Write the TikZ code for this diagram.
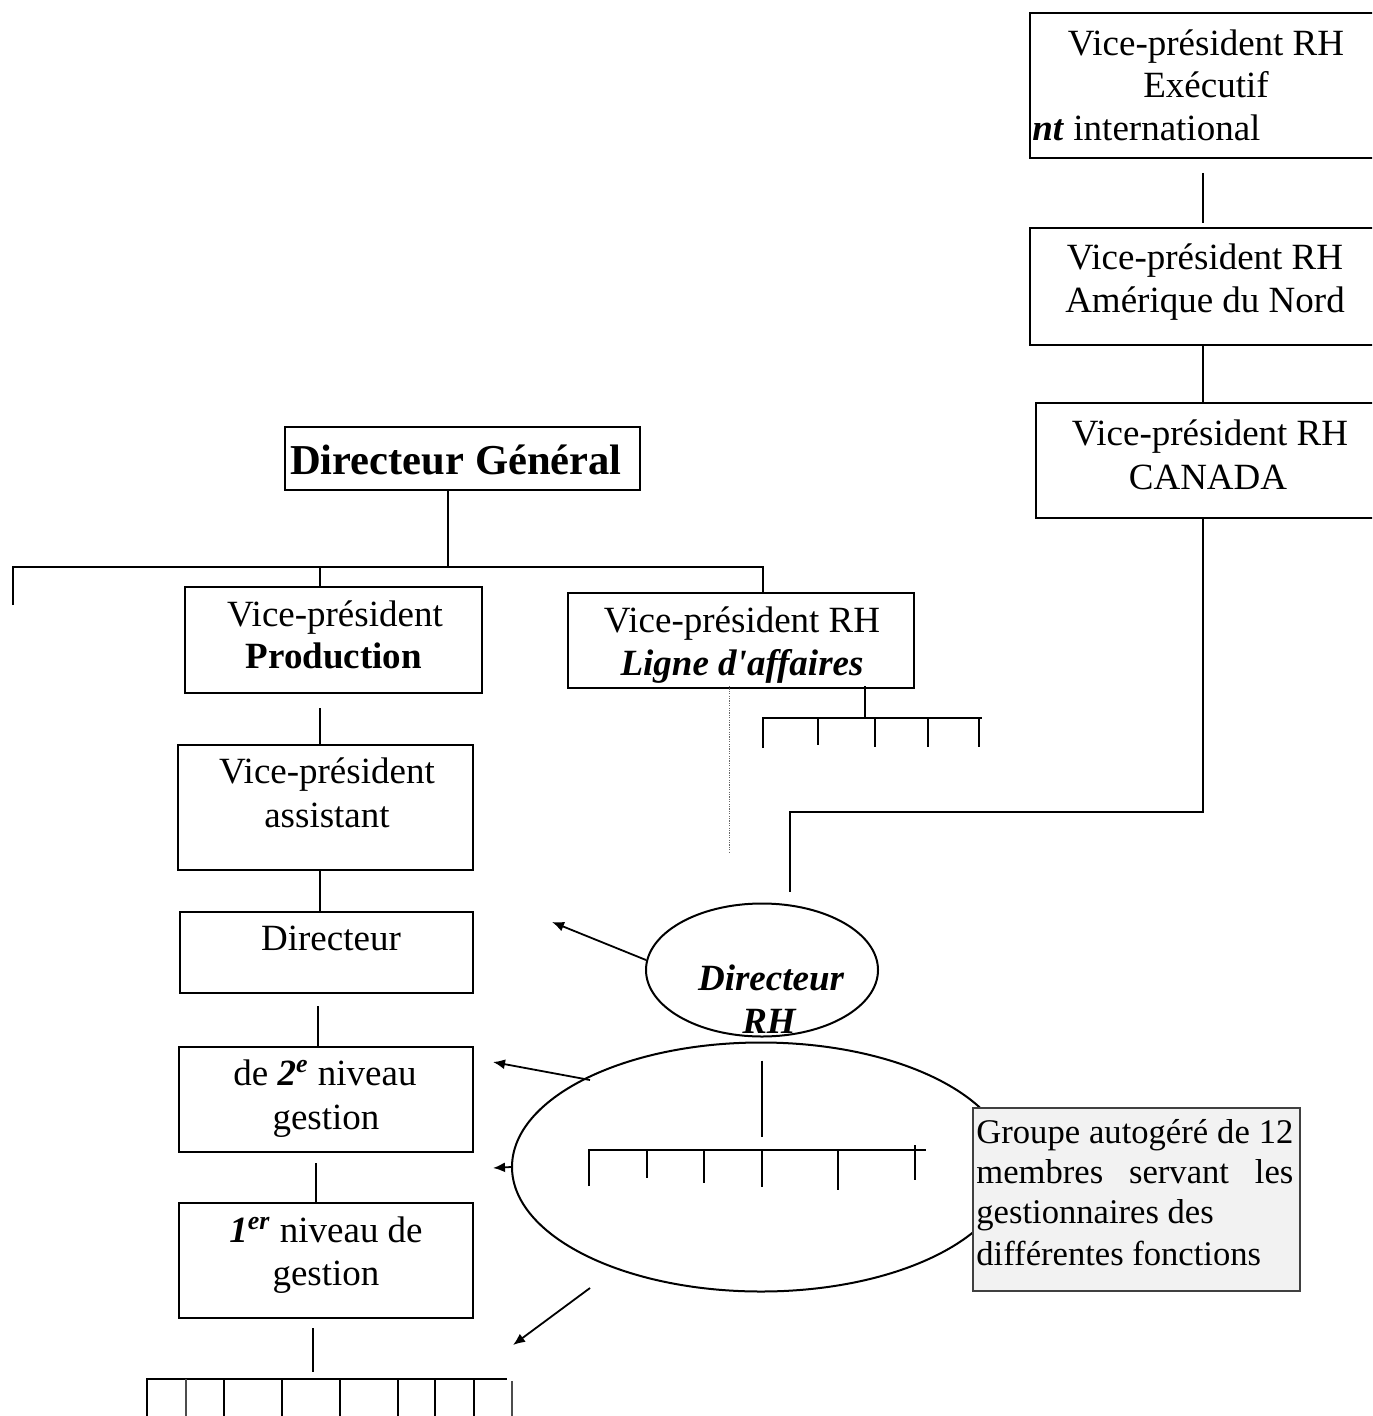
\documentclass[tikz,border=0pt]{standalone}
\usepackage{fontspec}
\setmainfont{Liberation Serif}
\usetikzlibrary{shapes.geometric, arrows.meta, calc}

\begin{document}
\begin{tikzpicture}[x=0.5pt, y=-0.5pt,
  rbox/.style={draw, line width=1pt, rectangle, inner sep=0pt},
  txt/.style={inner sep=0pt, anchor=base, font=\fontsize{18.5}{21}\selectfont},
  gtxt/.style={inner sep=0pt, anchor=base west, font=\fontsize{17.3}{20}\selectfont},
  link/.style={line width=1.3pt},
  thinlink/.style={line width=0.7pt, draw=black!70},
  pointer/.style={line width=0.9pt, -{Latex[length=6pt, width=5pt]}},
  oval/.style={draw, ellipse, line width=1pt, inner sep=0pt},
  dotline/.style={draw=black!60, line width=0.5pt, dash pattern=on 0.6pt off 0.6pt}]

\path[use as bounding box] (0,0) rectangle (1372,1416);
\clip (0,0) rectangle (1372,1416);

% ---------- HR chain on the right ----------
\node[rbox, minimum width=175pt, minimum height=72.5pt] (exe) at (1205,85.5) {};
\node[rbox, minimum width=175pt, minimum height=58.5pt] (amn) at (1205,286.5) {};
\node[rbox, minimum width=172pt, minimum height=57.5pt] (can) at (1208,460.5) {};

\node[txt] (exe1) at (1206,56) {Vice-président RH};
\node[txt] (exe2) at (1206,98) {Exécutif};
\node[txt, anchor=base west] (exe3) at (1032,141) {\textbf{\textit{nt}} international};

\node[txt] (amn1) at (1205,270) {Vice-président RH};
\node[txt] (amn2) at (1205,313) {Amérique du Nord};

\node[txt] (can1) at (1210,446) {Vice-président RH};
\node[txt] (can2) at (1208,489) {CANADA};

% ---------- general management ----------
\node[rbox, minimum width=177.5pt, minimum height=31.5pt] (dg) at (462.5,458.5) {};
\node[txt, font=\fontsize{21.3}{24}\selectfont\bfseries] (dgt) at (456,474) {Directeur Général};

\node[rbox, minimum width=148.5pt, minimum height=53pt] (vpp) at (333.5,640) {};
\node[txt] (vpp1) at (335,626) {Vice-président};
\node[txt, font=\fontsize{18.5}{21}\selectfont\bfseries] (vpp2) at (334,668) {Production};

\node[rbox, minimum width=173pt, minimum height=47.5pt] (vprh) at (741,640.5) {};
\node[txt] (vprh1) at (742,632) {Vice-président RH};
\node[txt, font=\fontsize{18.5}{21}\selectfont\bfseries\itshape] (vprh2) at (742,675) {Ligne d\textquotesingle affaires};

\node[rbox, minimum width=147.5pt, minimum height=62.5pt] (vpa) at (325.5,807.5) {};
\node[txt] (vpa1) at (327,783) {Vice-président};
\node[txt] (vpa2) at (327,827) {assistant};

\node[rbox, minimum width=146.5pt, minimum height=40.5pt] (dir) at (326.5,952.5) {};
\node[txt] (dirt) at (331,950) {Directeur};

\node[rbox, minimum width=147pt, minimum height=52.5pt] (n2) at (326,1099.5) {};
\node[txt] (n2a) at (325,1085) {de \textbf{\textit{2}}\textsuperscript{\textbf{\textit{e}}} niveau};
\node[txt] (n2b) at (326,1129) {gestion};

\node[rbox, minimum width=147pt, minimum height=57.5pt] (n1) at (326,1260.5) {};
\node[txt] (n1a) at (326,1242) {\textbf{\textit{1}}\textsuperscript{\textbf{\textit{er}}} niveau de};
\node[txt] (n1b) at (326,1285) {gestion};

% ---------- HR director and self-managed team ----------
\node[oval, minimum width=249pt, minimum height=124.5pt] (team) at (761,1167) {};
\node[oval, minimum width=116pt, minimum height=66.5pt] (dirRH) at (762,970) {};
\node[txt, font=\fontsize{18.5}{21}\selectfont\bfseries\itshape] (dirRH1) at (771,990) {Directeur};
\node[txt, font=\fontsize{18.5}{21}\selectfont\bfseries\itshape] (dirRH2) at (769,1033) {RH};

\node[draw=black!75, line width=0.6pt, fill=black!5, inner sep=0pt,
      minimum width=163.5pt, minimum height=91.5pt] (grp) at (1136.5,1199.5) {};
\node[gtxt] (grp1) at (976,1143) {\makebox[158.5pt][s]{Groupe autogéré de 12}};
\node[gtxt] (grp2) at (976,1183) {\makebox[158.5pt][s]{membres servant les}};
\node[gtxt] (grp3) at (976,1223) {gestionnaires des};
\node[gtxt] (grp4) at (976,1265) {différentes fonctions};

% ---------- connectors: HR chain ----------
\draw[link] ($(exe.south)+(-2,14)$) -- ($(amn.north)+(-2,-4)$);
\draw[link] ($(amn.south)+(-2,0)$) -- ($(can.north)+(-5,0)$);
\draw[link] ($(can.south)+(-5,0)$) -- (1203,812) -- (790,812) -- ($(dirRH.north)+(28,-11)$);

% ---------- connectors: general management ----------
\coordinate (cutL) at (13,605);
\draw[link] ($(dg.south)+(-14.5,0)$) -- (448,567);
\draw[link] (cutL) -- (13,567) -- (763,567) -- ($(vprh.north)+(22,0)$);
\draw[link] (320,567) -- ($(vpp.north)+(-13.5,0)$);

% line-of-business sub-units
\draw[link] ($(vprh.south)+(124,-3)$) -- (865,718);
\draw[link] (763,748) -- (763,718) -- (982,718);
\foreach \x/\y in {818/745, 875/747, 928/747, 979/747}
  \draw[link] (\x,718) -- (\x,\y);
\draw[dotline] ($(vprh.south)+(-12,-3)$) -- (729,853);

% production line
\draw[link] ($(vpp.south)+(-13.5,14)$) -- ($(vpa.north)+(-5.5,0)$);
\draw[link] ($(vpa.south)+(-5.5,0)$) -- ($(dir.north)+(-6.5,1)$);
\draw[link] ($(dir.south)+(-8.5,12)$) -- ($(n2.north)+(-8,0)$);
\draw[link] ($(n2.south)+(-10,10)$) -- ($(n1.north)+(-10,0)$);
\draw[link] ($(n1.south)+(-13,9)$) -- (313,1372);

% front-line employees
\draw[link] (147,1416) -- (147,1379) -- (507,1379);
\draw[thinlink] (186,1379) -- (186,1416);
\foreach \x in {224, 282, 340, 398, 435, 474}
  \draw[link] (\x,1379) -- (\x,1416);
\draw[thinlink] (512,1381) -- (512,1416);

% team members inside the large oval
\draw[link] ($(team.north)+(1,19)$) -- (762,1137);
\draw[link] (589,1186) -- (589,1150) -- (926,1150);
\foreach \x/\y in {647/1178, 704/1183, 762/1187, 838/1190}
  \draw[link] (\x,1150) -- (\x,\y);
\draw[link] (915,1145) -- (915,1180);

% ---------- service arrows ----------
\draw[pointer] ($(dirRH.west)+(1,-10)$) -- (552,922);
\draw[pointer] (590,1080) -- (493,1062);
\draw[pointer] (team.west) -- (493,1168);
\draw[pointer] (590,1288) -- (513,1345);

\end{tikzpicture}
\end{document}
